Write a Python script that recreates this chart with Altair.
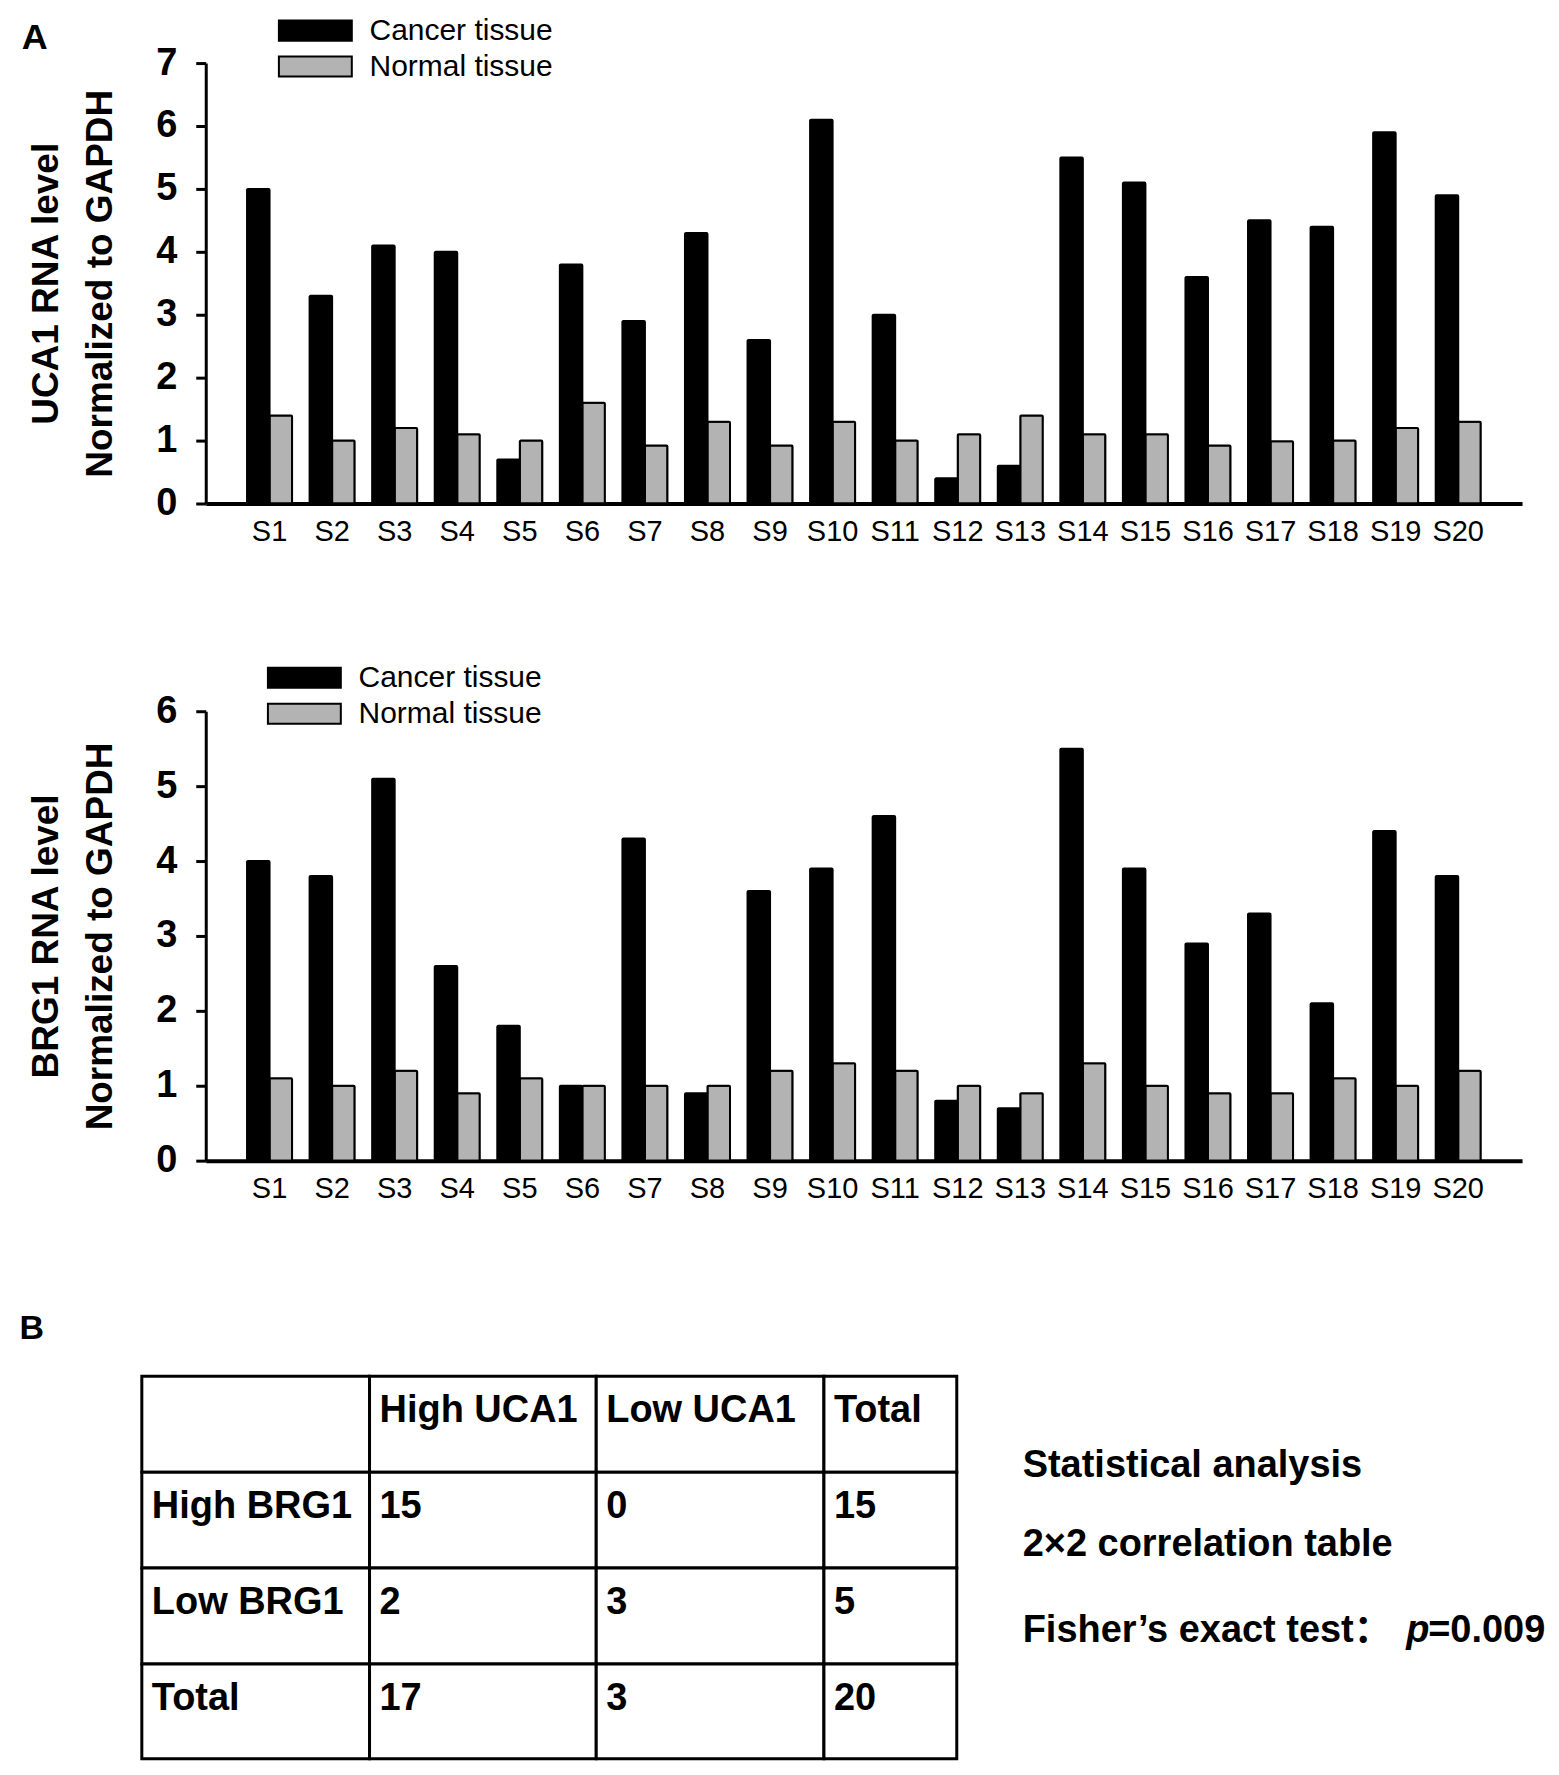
import altair as alt
import pandas as pd

# ---- data ----
samples = ["S1", "S2", "S3", "S4", "S5", "S6", "S7", "S8", "S9", "S10",
           "S11", "S12", "S13", "S14", "S15", "S16", "S17", "S18", "S19", "S20"]
tissues = ["Cancer tissue", "Normal tissue"]

uca1_cancer = [5.0, 3.3, 4.1, 4.0, 0.7, 3.8, 2.9, 4.3, 2.6, 6.1,
               3.0, 0.4, 0.6, 5.5, 5.1, 3.6, 4.5, 4.4, 5.9, 4.9]
uca1_normal = [1.4, 1.0, 1.2, 1.1, 1.0, 1.6, 0.92, 1.3, 0.92, 1.3,
               1.0, 1.1, 1.4, 1.1, 1.1, 0.92, 0.99, 1.0, 1.2, 1.3]
brg1_cancer = [4.0, 3.8, 5.1, 2.6, 1.8, 1.0, 4.3, 0.9, 3.6, 3.9,
               4.6, 0.8, 0.7, 5.5, 3.9, 2.9, 3.3, 2.1, 4.4, 3.8]
brg1_normal = [1.1, 1.0, 1.2, 0.9, 1.1, 1.0, 1.0, 1.0, 1.2, 1.3,
               1.2, 1.0, 0.9, 1.3, 1.0, 0.9, 0.9, 1.1, 1.0, 1.2]

col_labels = ["", "High UCA1", "Low UCA1", "Total"]
row_labels = ["High BRG1", "Low BRG1", "Total"]
counts = [[15, 0, 15], [2, 3, 5], [17, 3, 20]]

stats_lines = ["Statistical analysis", "2×2 correlation table", "Fisher’s exact test："]
p_label = "p"
p_value = "=0.009"

# ---- layout constants (pixels) ----
PLOT_W = 1318
COL_EDGES = [-64, 164, 391, 619, 752]
ROW_EDGES = [0, 96, 192, 288, 383]
TABLE_W = 1340
STATS_X = 818
STATS_Y = [90, 169, 255]
P_X = [1202, 1224]

FONT = "Liberation Sans"
CJK_FONT = "Liberation Sans, Noto Sans CJK SC"
# wide legend swatch: left edge at 0, 4 units wide, drawn from a small symbol size
RECT_PATH = "M-1,-0.55H3V0.55H-1Z"


def bar_panel(cancer, normal, ymax, ytitle, height, legend_x, legend_y):
    df = pd.DataFrame({
        "sample": samples * 2,
        "tissue": [tissues[0]] * len(samples) + [tissues[1]] * len(samples),
        "value": cancer + normal,
    })
    return alt.Chart(df).mark_bar(stroke="black", strokeWidth=2, cornerRadius=1).encode(
        x=alt.X("sample:N", sort=samples, title=None,
                scale=alt.Scale(paddingInner=0.28, paddingOuter=0.66),
                axis=alt.Axis(labelAngle=0, ticks=False, labelFontSize=29, labelPadding=14,
                              domainWidth=4, domainColor="black", labelColor="black")),
        xOffset=alt.XOffset("tissue:N", sort=tissues),
        y=alt.Y("value:Q", title=ytitle,
                scale=alt.Scale(domain=[0, ymax], nice=False),
                axis=alt.Axis(values=list(range(ymax + 1)), grid=False,
                              tickSize=10, tickWidth=3, tickColor="black",
                              domainWidth=3, domainColor="black",
                              labelFontSize=38, labelFontWeight="bold", labelPadding=19,
                              labelColor="black",
                              titleFontSize=37, titleFontWeight="bold", titlePadding=36,
                              titleLineHeight=54, titleColor="black")),
        color=alt.Color("tissue:N",
                        scale=alt.Scale(domain=tissues, range=["#000000", "#b3b3b3"]),
                        legend=alt.Legend(title=None, orient="none",
                                          legendX=legend_x, legendY=legend_y,
                                          symbolType=RECT_PATH, symbolSize=36.5 * 36.5,
                                          symbolStrokeColor="black", symbolStrokeWidth=2,
                                          symbolOpacity=1, labelLimit=400,
                                          labelFontSize=30, labelOffset=53, labelColor="black",
                                          rowPadding=1)),
    ).properties(width=PLOT_W, height=height)


top = bar_panel(uca1_cancer, uca1_normal, 7, ["UCA1 RNA level", "Normalized to GAPDH"],
                441, 72, -52).properties(
    title=alt.Title("A", anchor="start", frame="bounds", fontSize=36, fontWeight="bold",
                    color="black", dx=-6, dy=50)
)
bottom = bar_panel(brg1_cancer, brg1_normal, 6, ["BRG1 RNA level", "Normalized to GAPDH"],
                   450, 61, -53)

# ---- contingency table ----
cells = []
for r in range(4):
    for c in range(4):
        if r == 0:
            txt = col_labels[c]
        elif c == 0:
            txt = row_labels[r - 1]
        else:
            txt = str(counts[r - 1][c - 1])
        cells.append({"x0": COL_EDGES[c], "x1": COL_EDGES[c + 1],
                      "y0": ROW_EDGES[r], "y1": ROW_EDGES[r + 1],
                      "ty": ROW_EDGES[r] + 35, "text": txt})
cells = pd.DataFrame(cells)

xs = alt.Scale(domain=[0, TABLE_W])
ys = alt.Scale(domain=[0, ROW_EDGES[-1]], reverse=True)

grid = alt.Chart(cells).mark_rect(fill="white", stroke="black", strokeWidth=3).encode(
    x=alt.X("x0:Q", scale=xs, axis=None), x2="x1:Q",
    y=alt.Y("y0:Q", scale=ys, axis=None), y2="y1:Q",
)
cell_text = alt.Chart(cells).mark_text(align="left", baseline="middle", dx=10,
                                       fontSize=38, fontWeight="bold", color="black").encode(
    x=alt.X("x0:Q", scale=xs), y=alt.Y("ty:Q", scale=ys), text="text:N"
)

stats = pd.DataFrame({"x": [STATS_X] * 3, "y": STATS_Y, "text": stats_lines})
stats_text = alt.Chart(stats).mark_text(align="left", baseline="middle", fontSize=38,
                                        fontWeight="bold", color="black", font=CJK_FONT).encode(
    x=alt.X("x:Q", scale=xs), y=alt.Y("y:Q", scale=ys), text="text:N"
)
pv = pd.DataFrame({"x": P_X, "y": [STATS_Y[2]] * 2, "text": [p_label, p_value],
                   "italic": [True, False]})
p_text = alt.Chart(pv).transform_filter("datum.italic").mark_text(
    align="left", baseline="middle", fontSize=38, fontWeight="bold", fontStyle="italic",
    color="black").encode(x=alt.X("x:Q", scale=xs), y=alt.Y("y:Q", scale=ys), text="text:N")
v_text = alt.Chart(pv).transform_filter("!datum.italic").mark_text(
    align="left", baseline="middle", fontSize=38, fontWeight="bold",
    color="black").encode(x=alt.X("x:Q", scale=xs), y=alt.Y("y:Q", scale=ys), text="text:N")

table = alt.layer(grid, cell_text, stats_text, p_text, v_text).properties(
    width=TABLE_W, height=ROW_EDGES[-1],
    title=alt.Title("B", anchor="start", frame="bounds", fontSize=34, fontWeight="bold",
                    color="black", dx=-121, offset=29)
)

charts = alt.vconcat(top, bottom, spacing=112).resolve_scale(color="independent") \
    .resolve_legend(color="independent")
chart = alt.vconcat(charts, table, spacing=108).properties(
    padding={"left": 11, "top": 2, "right": 5, "bottom": 5}
).configure(font=FONT).configure_view(stroke=None)

chart.save("out.html", embed_options={"renderer": "svg", "actions": False})
